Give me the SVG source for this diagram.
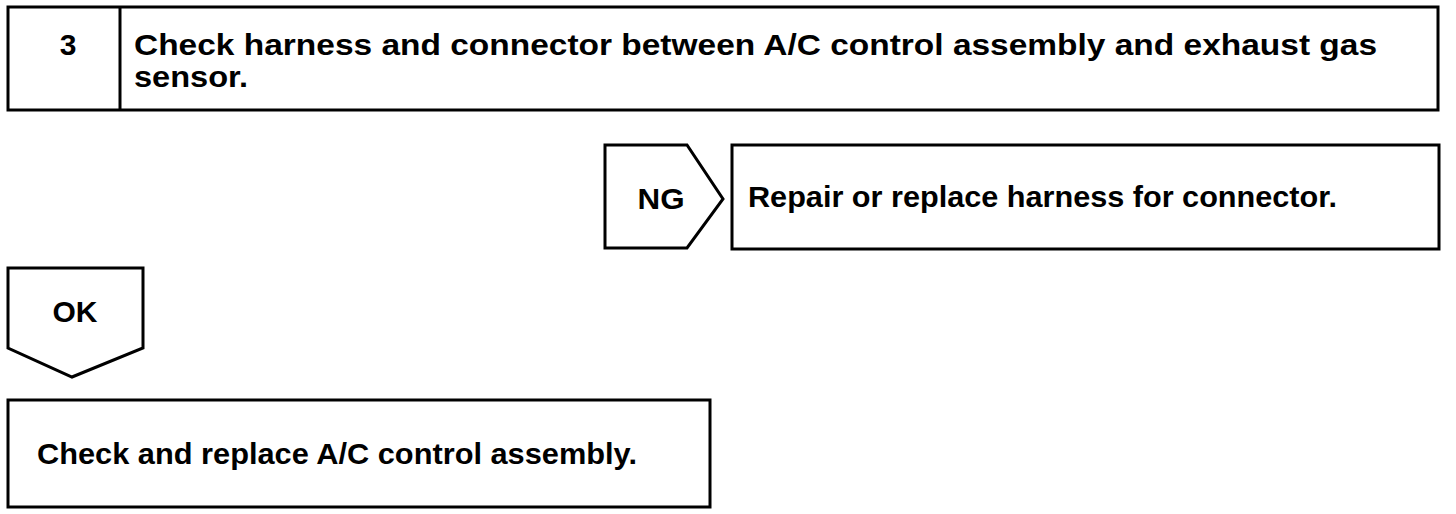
<svg xmlns="http://www.w3.org/2000/svg" width="1456" height="514" viewBox="0 0 1456 514">
<style>
.b{fill:#fff;stroke:#000;stroke-width:3}
.t{font-family:"Liberation Sans",Arial,sans-serif;font-weight:bold;font-size:30px;fill:#000}
</style>
<rect width="1456" height="514" fill="#fff"/>
<g id="step3">
<rect class="b" x="8" y="7" width="1430" height="103"/>
<line x1="120" y1="7" x2="120" y2="110" stroke="#000" stroke-width="3"/>
<text class="t" x="68" y="55" text-anchor="middle">3</text>
<text class="t" x="134" y="55" textLength="1243" lengthAdjust="spacingAndGlyphs">Check harness and connector between A/C control assembly and exhaust gas</text>
<text class="t" x="134" y="87" textLength="114" lengthAdjust="spacingAndGlyphs">sensor.</text>
</g>
<g id="ng">
<polygon class="b" points="605,145 687,145 723,199 687,248 605,248"/>
<text class="t" x="661" y="209" text-anchor="middle" textLength="47" lengthAdjust="spacingAndGlyphs">NG</text>
</g>
<g id="repair">
<rect class="b" x="732" y="145" width="707" height="104"/>
<text class="t" x="748" y="207" textLength="589" lengthAdjust="spacingAndGlyphs">Repair or replace harness for connector.</text>
</g>
<g id="ok">
<polygon class="b" points="8,268 143,268 143,348 72,377 8,348"/>
<text class="t" x="75" y="322" text-anchor="middle" textLength="45" lengthAdjust="spacingAndGlyphs">OK</text>
</g>
<g id="replace">
<rect class="b" x="8" y="400" width="702" height="107"/>
<text class="t" x="37" y="464" textLength="600" lengthAdjust="spacingAndGlyphs">Check and replace A/C control assembly.</text>
</g>
<g id="connectors"></g>
</svg>
